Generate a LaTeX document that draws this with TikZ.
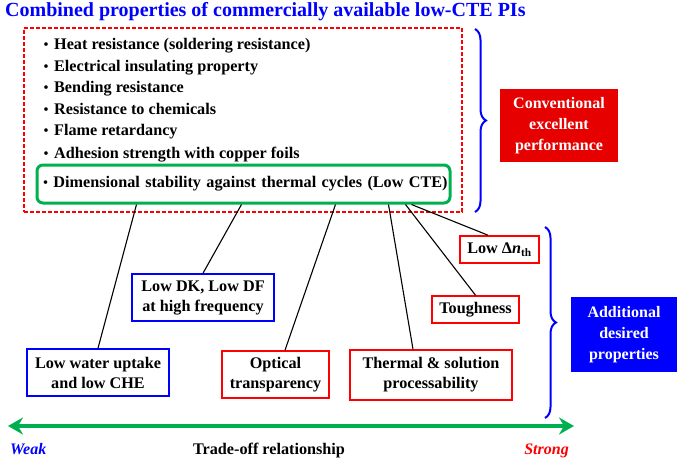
\documentclass[tikz,border=0pt]{standalone}
\usepackage{fontspec}
\setmainfont{Liberation Serif}
\newfontfamily\cjk[Scale=0.8]{Noto Sans CJK JP}
\usepackage{xcolor}
\usepackage{tikz}
\usetikzlibrary{calc,positioning,decorations.pathreplacing,arrows.meta}
\definecolor{tradegreen}{HTML}{00B050}
\definecolor{propblue}{HTML}{0000FF}
\definecolor{propred}{HTML}{FF0000}
\definecolor{convred}{HTML}{E60000}
\newcommand{\bul}{{\cjk ・}\hspace{1.5pt}}

\begin{document}
\begin{tikzpicture}[x=1pt,y=-1pt]
  \tikzset{item/.style={anchor=base west,inner sep=0pt,font=\fontsize{16.2}{20}\selectfont\bfseries},
    prop box/.style={draw=#1,line width=1.6pt,align=center,inner sep=0pt,font=\fontsize{16.2}{20}\selectfont\bfseries},
    side box/.style={fill=#1,text=white,align=center,inner sep=0pt,font=\fontsize{16}{21}\selectfont\bfseries},
    side brace/.style={decorate,decoration={brace,amplitude=11pt},draw=propblue,line width=2pt},
    link/.style={draw=black,line width=1.1pt}}
  \useasboundingbox (0,0) rectangle (682,461);

  \node[anchor=west,inner sep=0pt,text=propblue,font=\fontsize{20}{24}\selectfont\bfseries] (title) at (5,12) {Combined properties of commercially available low-CTE PIs};

  % conventional properties
  \node[draw=propred,line width=1.2pt,dash pattern=on 4pt off 2pt,minimum width=438,minimum height=184] (conv) at (243,120) {};
  \node[item] (heat) at (39.5,49.5) {\bul Heat resistance (soldering resistance)};
  \node[item] (insul) at (39.5,71.5) {\bul Electrical insulating property};
  \node[item] (bend) at (39.5,92.5) {\bul Bending resistance};
  \node[item] (chem) at (39.5,114.5) {\bul Resistance to chemicals};
  \node[item] (flame) at (39.5,135.5) {\bul Flame retardancy};
  \node[item] (adh) at (39.5,158.5) {\bul Adhesion strength with copper foils};
  \node[draw=tradegreen,line width=3pt,rounded corners=6pt,minimum width=413,minimum height=38,
    text width=409pt,inner xsep=2pt,align=left,font=\fontsize{16.2}{20}\selectfont\bfseries] (cte) at (243.5,184)
    {\bul Dimensional stability against thermal cycles (Low CTE)};

  \draw[side brace] (475,29) -- (475,212);
  \node[side box=convred,minimum width=118,minimum height=73] (convbox) at (559,125.5) {Conventional\\excellent\\performance};

  % additional properties
  \node[prop box=propblue,minimum width=142,minimum height=47] (water) at (98,372.5) {Low water uptake\\and low CHE};
  \node[prop box=propblue,minimum width=142,minimum height=47] (dk) at (203,297.5) {Low DK, Low DF\\at high frequency};
  \node[prop box=propred,minimum width=107,minimum height=47] (optic) at (275.5,374.5) {Optical\\transparency};
  \node[prop box=propred,minimum width=162,minimum height=50] (thermal) at (431,375) {Thermal \& solution\\processability};
  \node[prop box=propred,minimum width=87,minimum height=27] (tough) at (475.5,309.5) {Toughness};
  \node[prop box=propred,minimum width=79,minimum height=27] (dn) at (499.5,249.5) {Low Δ\textit{n}\textsubscript{th}};

  \draw[link] ($(cte.south west)+(101,0)$) -- (water.north);
  \draw[link] ($(cte.south west)+(206,0)$) -- (dk.north);
  \draw[link] ($(cte.south west)+(300,0)$) -- ($(optic.north)+(9.5,0)$);
  \draw[link] ($(cte.south west)+(353,0)$) -- ($(thermal.north)+(-18,0)$);
  \draw[link] ($(cte.south west)+(370,0)$) -- (tough.north);
  \draw[link] ($(cte.south west)+(376,0)$) -- ($(dn.north)+(-11.5,0)$);

  \draw[side brace] (545,227) -- (545,418);
  \node[side box=propblue,minimum width=106,minimum height=75] (addbox) at (624,334.5) {Additional\\desired\\properties};

  % trade-off axis
  \coordinate (weakend) at (8,426);
  \coordinate (strongend) at (574,426);
  \draw[tradegreen,line width=3.5pt,{Stealth[length=15pt,width=17pt,inset=5pt]}-{Stealth[length=15pt,width=17pt,inset=5pt]}] (weakend) -- (strongend);
  \node[anchor=base west,inner sep=0pt,text=propblue,font=\fontsize{16}{20}\selectfont\bfseries\itshape] (weak) at (10,454) {Weak};
  \node[anchor=base,inner sep=0pt,font=\fontsize{16.2}{20}\selectfont\bfseries] (tradeoff) at (269,454) {Trade-off relationship};
  \node[anchor=base east,inner sep=0pt,text=propred,font=\fontsize{16}{20}\selectfont\bfseries\itshape] (strong) at (569,454) {Strong};
\end{tikzpicture}
\end{document}
